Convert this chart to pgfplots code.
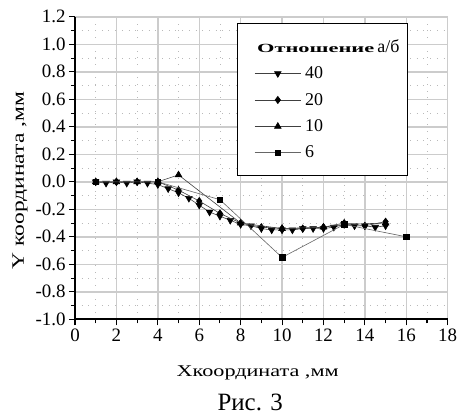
\documentclass[border=0pt]{standalone}
\usepackage{fontspec}
\setmainfont{Liberation Serif}
\newfontfamily\widefont[FakeStretch=1.35]{Liberation Serif}
\newfontfamily\titlefont[FakeStretch=1.8]{Liberation Serif}
\usepackage{pgfplots}
\pgfplotsset{compat=1.18}

\begin{document}
\begin{tikzpicture}
\path[use as bounding box] (-75bp,-97bp) rectangle (383bp,319.3bp);
\begin{axis}[
    at={(0,0)}, anchor=south west,
    scale only axis,
    width=372.7bp, height=302.5bp,
    clip mode=individual,
    xmin=0, xmax=18, ymin=-1, ymax=1.2,
    xtick distance=2, ytick distance=0.2,
    minor x tick num=1, minor y tick num=1,
    grid=both,
    major grid style={draw=gray!40, line width=1.4bp},
    minor grid style={draw=gray!55, line width=0.7bp, dash pattern=on 0.7bp off 6bp},
    axis x line*=bottom, axis y line*=left,
    axis line style={black, line width=1.8bp, -},
    tick align=outside,
    major tick length=6bp, minor tick length=4bp,
    tick style={black, line width=1.1bp},
    /pgf/number format/assume math mode=true,
    tick label style={font=\fontsize{19}{19}\selectfont},
    yticklabel style={/pgf/number format/fixed, /pgf/number format/fixed zerofill, /pgf/number format/precision=1},
    xlabel={Xкоордината ,мм},
    ylabel={Y координата ,мм},
    xlabel style={font=\widefont\fontsize{16.5}{16.5}\selectfont, at={(axis description cs:0.49,-0.1785)}, anchor=center},
    ylabel style={font=\widefont\fontsize{17.5}{17.5}\selectfont, at={(axis description cs:-0.1476,0.458)}, anchor=center, rotate=0},
    legend style={at={(axis description cs:0.435,0.979)}, anchor=north west,
        draw=black, line width=0.8bp, fill=white,
        inner xsep=0bp, inner ysep=14bp, row sep=9bp,
        font=\fontsize{18}{18}\selectfont},
    legend cell align=left,
    legend image code/.code={%
        \path (-17bp,0bp) (48bp,0bp);
        \draw[#1, mark=none] (0bp,0bp) -- (46bp,0bp);
        \draw[mark repeat=2, mark phase=2, #1] plot coordinates {(0bp,0bp) (23bp,0bp) (46bp,0bp)};
    },
]
\addlegendimage{empty legend}
\addlegendentry{\hspace*{-48bp}{\titlefont\bfseries\fontsize{12.5}{12.5}\selectfont Отношение}\,{\fontsize{18}{18}\selectfont а/б}\hspace*{6bp}}

\addplot[black!75, line width=0.6bp, mark=triangle*, mark size=3.8bp, mark options={rotate=180, fill=black, draw=black}] coordinates {
(1,0) (1.5,-0.01) (2,0) (2.5,-0.01) (3,0) (3.5,-0.01) (4,-0.02) (4.5,-0.05)
(5,-0.08) (5.5,-0.12) (6,-0.17) (6.5,-0.22) (7,-0.25) (7.5,-0.28) (8,-0.31)
(8.5,-0.32) (9,-0.34) (9.5,-0.35) (10,-0.35) (10.5,-0.35) (11,-0.34) (11.5,-0.34)
(12,-0.34) (12.5,-0.33) (13,-0.31) (13.5,-0.32) (14,-0.32) (14.5,-0.33) (15,-0.32)
};
\addlegendentry{40}

\addplot[black!75, line width=0.6bp, mark=diamond*, mark size=3.6bp, mark options={fill=black, draw=black}] coordinates {
(1,0) (2,0) (3,0) (4,0) (5,-0.06) (6,-0.14) (7,-0.23) (8,-0.30) (9,-0.33)
(10,-0.34) (11,-0.34) (12,-0.33) (13,-0.30) (14,-0.32) (15,-0.29)
};
\addlegendentry{20}

\addplot[black!75, line width=0.6bp, mark=triangle*, mark size=3.8bp, mark options={fill=black, draw=black}] coordinates {
(1,0) (2,0) (3,0) (4,0) (5,0.05) (8,-0.30) (10,-0.34) (12,-0.33) (13,-0.31) (15,-0.30)
};
\addlegendentry{10}

\addplot[black!60, line width=0.6bp, mark=square*, mark size=2.8bp, mark options={fill=black, draw=black}] coordinates {
(1,0) (4,0) (7,-0.13) (10,-0.55) (13,-0.31) (16,-0.40)
};
\addlegendentry{6}

\node[font=\fontsize{25}{25}\selectfont] at (axis description cs:0.47,-0.274) {Рис. 3};
\end{axis}
\end{tikzpicture}
\end{document}
